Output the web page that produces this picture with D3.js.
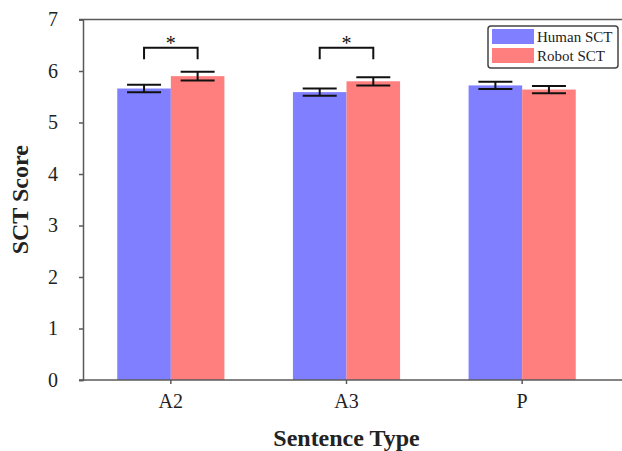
<!DOCTYPE html>
<html><head><meta charset="utf-8">
<script src="https://cdn.jsdelivr.net/npm/d3@7"></script>
<style>body{margin:0;background:#fff}svg{display:block}</style>
</head><body><svg id="c" width="622" height="451"></svg>
<script>
const categories = ["A2", "A3", "P"];
const seriesNames = ["Human SCT", "Robot SCT"];
const humanValues = [5.66, 5.59, 5.72];
const humanErrors = [0.075, 0.07, 0.07];
const robotValues = [5.90, 5.80, 5.64];
const robotErrors = [0.085, 0.08, 0.07];
const significant = [true, true, false];
const yTicks = [0, 1, 2, 3, 4, 5, 6, 7];
const colors = ["#7f7fff", "#ff7f7f"];

const svg = d3.select("#c");
const L = 83, R = 610, T = 19.5, B = 380;
const font = "'Liberation Serif','Times New Roman',serif";
const axisColor = "#5a5a5a", textColor = "#222";

const x = d3.scaleBand().domain(categories).range([L, R]).paddingInner(0.39).paddingOuter(0.195);
const xs = d3.scaleBand().domain(seriesNames).range([0, x.bandwidth()]);
const y = d3.scaleLinear().domain([0, 7]).range([B, T]);

const series = [
  {name: seriesNames[0], vals: humanValues, errs: humanErrors, color: colors[0]},
  {name: seriesNames[1], vals: robotValues, errs: robotErrors, color: colors[1]}
];

// bars
series.forEach(s => {
  svg.append("g").selectAll("rect").data(categories).join("rect")
    .attr("x", c => x(c) + xs(s.name))
    .attr("y", (c, i) => y(s.vals[i]))
    .attr("width", xs.bandwidth())
    .attr("height", (c, i) => y(0) - y(s.vals[i]))
    .attr("fill", s.color);
});

// error bars
const capW = 34;
series.forEach(s => {
  const g = svg.append("g").attr("stroke", "#111").attr("stroke-width", 2);
  categories.forEach((c, i) => {
    const cx = x(c) + xs(s.name) + xs.bandwidth() / 2;
    const hi = y(s.vals[i] + s.errs[i]), lo = y(s.vals[i] - s.errs[i]);
    g.append("line").attr("x1", cx).attr("x2", cx).attr("y1", hi).attr("y2", lo);
    g.append("line").attr("x1", cx - capW/2).attr("x2", cx + capW/2).attr("y1", hi).attr("y2", hi);
    g.append("line").attr("x1", cx - capW/2).attr("x2", cx + capW/2).attr("y1", lo).attr("y2", lo);
  });
});

// significance brackets
categories.forEach((c, i) => {
  if (!significant[i]) return;
  const x1 = x(c) + xs(seriesNames[0]) + xs.bandwidth() / 2;
  const x2 = x(c) + xs(seriesNames[1]) + xs.bandwidth() / 2;
  const yt = y(6.45), yb = y(6.23);
  svg.append("path")
    .attr("d", `M${x1},${yb}V${yt}H${x2}V${yb}`)
    .attr("fill", "none").attr("stroke", "#111").attr("stroke-width", 2);
  svg.append("text").attr("x", (x1 + x2) / 2).attr("y", yt + 2)
    .attr("text-anchor", "middle").attr("font-family", font).attr("font-size", 20)
    .attr("fill", "#111").text("*");
});

// frame lines
svg.append("line").attr("x1", L - 4).attr("x2", 622).attr("y1", T).attr("y2", T)
  .attr("stroke", axisColor).attr("stroke-width", 1.5);

// y axis
const yAxis = svg.append("g").attr("transform", `translate(${L},0)`)
  .call(d3.axisLeft(y).tickValues(yTicks).tickFormat(d3.format("d")).tickSizeOuter(0).tickSize(4).tickPadding(21));
yAxis.select(".domain").attr("stroke", axisColor).attr("stroke-width", 1.5);
yAxis.selectAll(".tick line").attr("stroke", axisColor).attr("stroke-width", 1.5);
yAxis.selectAll("text").attr("font-family", font).attr("font-size", 20).attr("fill", textColor);

// x axis
const xAxis = svg.append("g").attr("transform", `translate(0,${B})`)
  .call(d3.axisBottom(x).tickSize(4).tickSizeOuter(0).tickPadding(10));
xAxis.select(".domain").attr("d", `M${L - 4},0H622`).attr("stroke", axisColor).attr("stroke-width", 1.5);
xAxis.selectAll(".tick line").attr("stroke", axisColor).attr("stroke-width", 1.5);
xAxis.selectAll("text").attr("font-family", font).attr("font-size", 20).attr("fill", textColor);

// axis titles
svg.append("text").attr("x", (L + R) / 2).attr("y", 446).attr("text-anchor", "middle")
  .attr("font-family", font).attr("font-weight", "bold").attr("font-size", 24).attr("fill", textColor)
  .text("Sentence Type");
svg.append("text").attr("transform", `translate(28,${(T + B) / 2}) rotate(-90)`)
  .attr("text-anchor", "middle").attr("font-family", font).attr("font-weight", "bold")
  .attr("font-size", 24).attr("fill", textColor).text("SCT Score");

// legend
const lg = svg.append("g").attr("transform", "translate(488,26)");
lg.append("rect").attr("width", 130).attr("height", 42).attr("rx", 3)
  .attr("fill", "#fff").attr("stroke", "#444").attr("stroke-width", 1.5);
series.forEach((s, i) => {
  lg.append("rect").attr("x", 4).attr("y", 3 + i * 19).attr("width", 42).attr("height", 15).attr("fill", s.color);
  lg.append("text").attr("x", 49).attr("y", 16 + i * 19).attr("font-family", font)
    .attr("font-size", 15).attr("fill", textColor).text(s.name);
});
</script></body></html>
